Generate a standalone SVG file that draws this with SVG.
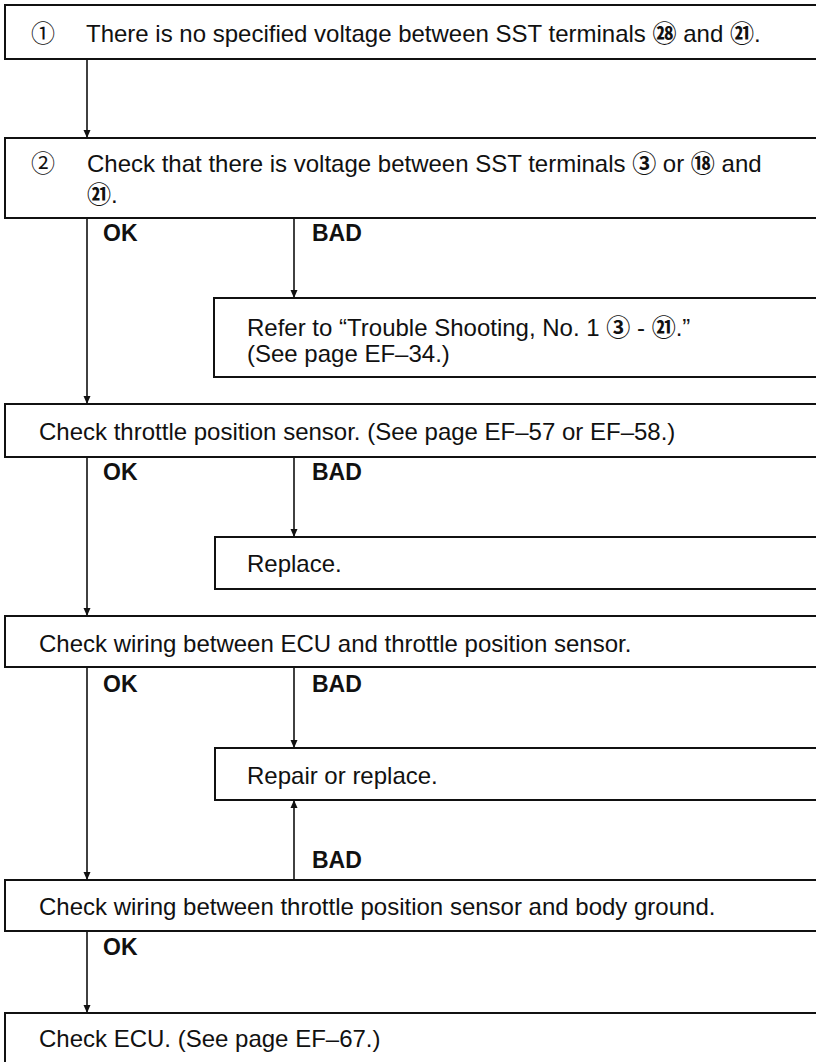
<svg xmlns="http://www.w3.org/2000/svg" width="816" height="1062" viewBox="0 0 816 1062">
<style>
.box{fill:#fff;stroke:#111;stroke-width:2}
.t{font-family:"Liberation Sans","Noto Sans CJK JP",sans-serif;font-size:24px;fill:#111}
.c{font-family:"Noto Sans CJK JP",sans-serif;font-size:24px}
.cb{font-family:"Noto Sans CJK JP",sans-serif;font-size:24px;font-weight:bold}
.lbl{font-family:"Liberation Sans",sans-serif;font-size:23px;font-weight:bold;fill:#111}
.ln{stroke:#111;stroke-width:1.6;fill:none;marker-end:url(#ah)}
</style>
<defs>
<marker id="ah" markerUnits="userSpaceOnUse" markerWidth="9" markerHeight="9" refX="8" refY="4" orient="auto">
<path d="M0,0.5 L8,4 L0,7.5 z" fill="#111"/>
</marker>
</defs>
<rect width="816" height="1062" fill="#fff"/>
<g id="connectors">
<line class="ln" x1="87" y1="59" x2="87" y2="138"/>
<line class="ln" x1="87" y1="218" x2="87" y2="404"/>
<line class="ln" x1="294" y1="218" x2="294" y2="298"/>
<line class="ln" x1="87" y1="457" x2="87" y2="616"/>
<line class="ln" x1="294" y1="457" x2="294" y2="537"/>
<line class="ln" x1="87" y1="667" x2="87" y2="880"/>
<line class="ln" x1="294" y1="667" x2="294" y2="748"/>
<line class="ln" x1="294" y1="880" x2="294" y2="800"/>
<line class="ln" x1="87" y1="931" x2="87" y2="1013"/>
<text class="lbl" x="103" y="241">OK</text>
<text class="lbl" x="312" y="241">BAD</text>
<text class="lbl" x="103" y="480">OK</text>
<text class="lbl" x="312" y="480">BAD</text>
<text class="lbl" x="103" y="692">OK</text>
<text class="lbl" x="312" y="692">BAD</text>
<text class="lbl" x="312" y="868">BAD</text>
<text class="lbl" x="103" y="955">OK</text>
</g>
<g id="n1">
<rect class="box" x="5" y="5" width="830" height="54"/>
<text class="t" x="31" y="42"><tspan class="c">①</tspan><tspan x="86">There is no specified voltage between SST terminals </tspan><tspan class="cb">㉘</tspan> and <tspan class="cb">㉑</tspan>.</text>
</g>
<g id="n2">
<rect class="box" x="5" y="138" width="830" height="80"/>
<text class="t" x="31" y="172"><tspan class="c">②</tspan><tspan x="87">Check that there is voltage between SST terminals </tspan><tspan class="cb">③</tspan> or <tspan class="cb">⑱</tspan> and</text>
<text class="t" x="87" y="203"><tspan class="cb" font-size="22">㉑</tspan>.</text>
</g>
<g id="n3">
<rect class="box" x="214" y="298" width="620" height="79"/>
<text class="t" x="247" y="336">Refer to “Trouble Shooting, No. 1 <tspan class="cb">③</tspan> - <tspan class="cb">㉑</tspan>.”</text>
<text class="t" x="247" y="362">(See page EF–34.)</text>
</g>
<g id="n4">
<rect class="box" x="5" y="404" width="830" height="53"/>
<text class="t" x="39" y="440">Check throttle position sensor. (See page EF–57 or EF–58.)</text>
</g>
<g id="n5">
<rect class="box" x="215" y="537" width="620" height="52"/>
<text class="t" x="247" y="572">Replace.</text>
</g>
<g id="n6">
<rect class="box" x="5" y="616" width="830" height="51"/>
<text class="t" x="39" y="652">Check wiring between ECU and throttle position sensor.</text>
</g>
<g id="n7">
<rect class="box" x="215" y="748" width="620" height="52"/>
<text class="t" x="247" y="784">Repair or replace.</text>
</g>
<g id="n8">
<rect class="box" x="5" y="880" width="830" height="51"/>
<text class="t" x="39" y="915">Check wiring between throttle position sensor and body ground.</text>
</g>
<g id="n9">
<rect class="box" x="5" y="1013" width="830" height="80"/>
<text class="t" x="39" y="1047">Check ECU. (See page EF–67.)</text>
</g>
</svg>
